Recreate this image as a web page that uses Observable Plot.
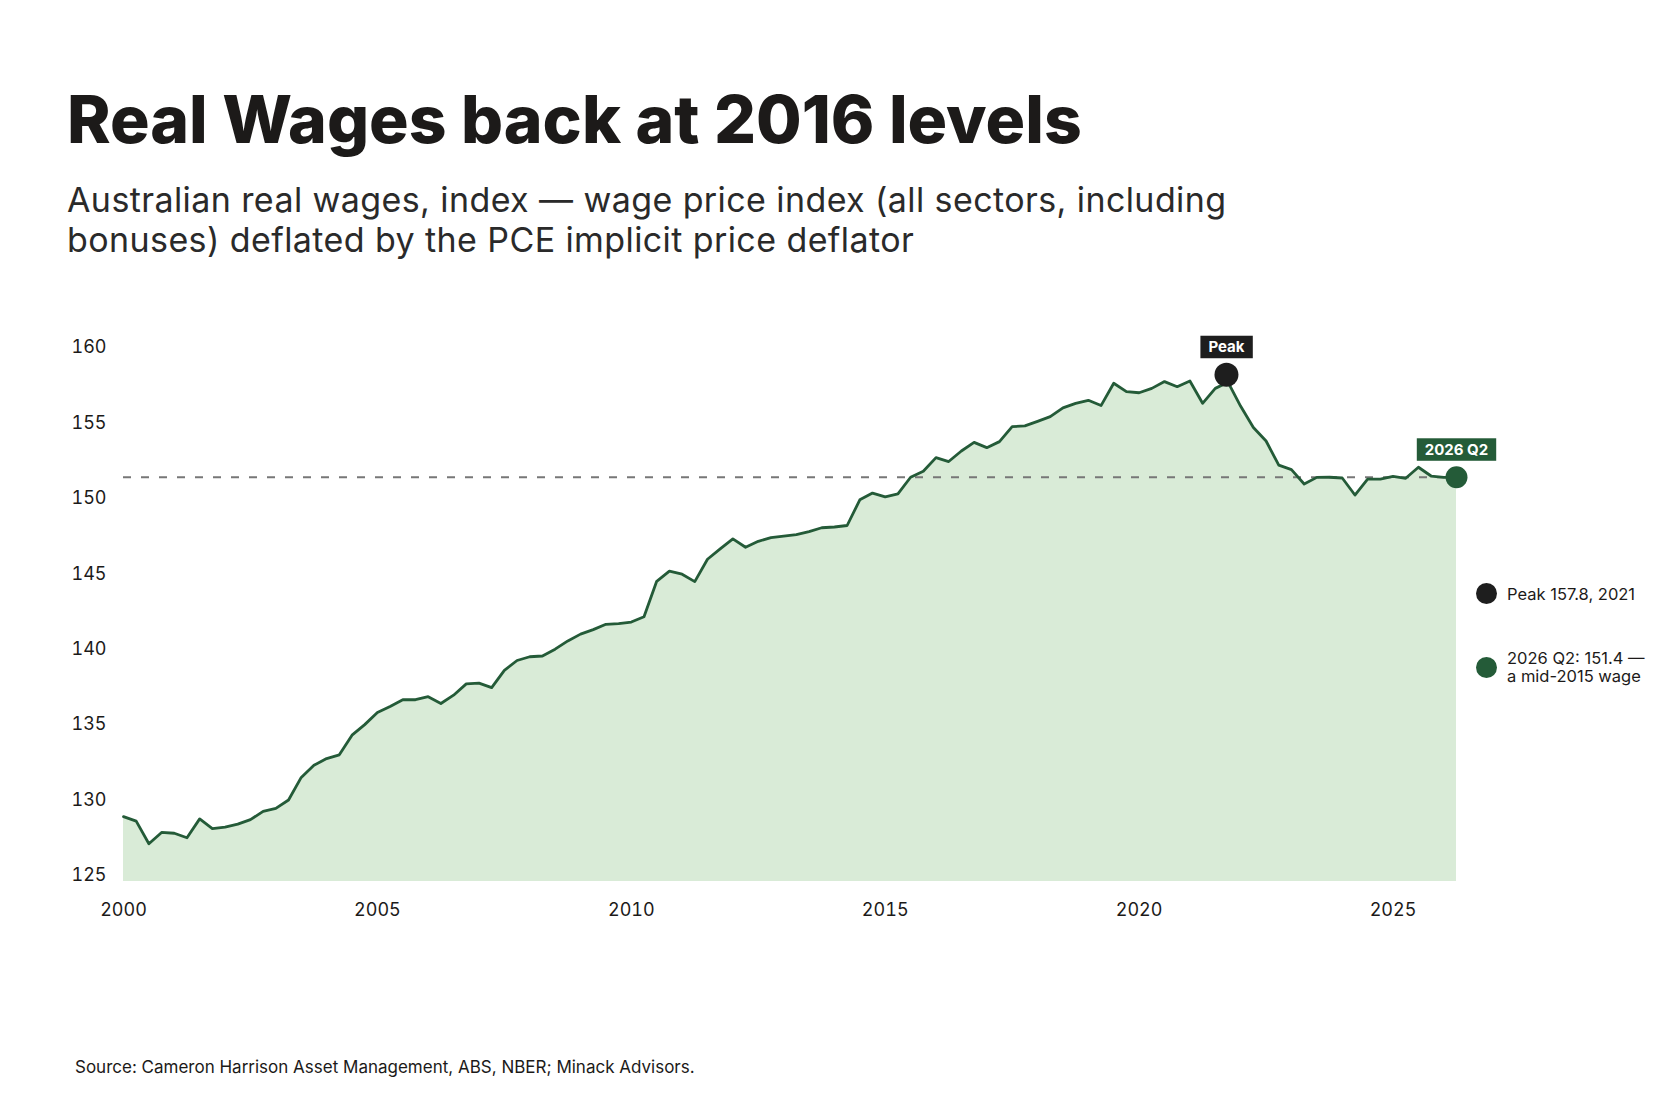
<!DOCTYPE html>
<html>
<head>
<meta charset="utf-8">
<script src="https://cdn.jsdelivr.net/npm/d3@7"></script>
<script src="https://cdn.jsdelivr.net/npm/@observablehq/plot@0.6"></script>
<style>
  html, body { margin: 0; padding: 0; background: #ffffff; }
  #page { position: relative; width: 1680px; height: 1120px; overflow: hidden;
          font-family: Inter, "Noto Sans", sans-serif; color: #1c1a19; }
  #title { position: absolute; left: 67px; top: 86px; margin: 0; font-size: 66px; line-height: 66px;
           font-weight: 800; letter-spacing: 0; white-space: nowrap; color: #1c1a19; }
  #subtitle { position: absolute; left: 67px; top: 180px; margin: 0; font-size: 34px; line-height: 40px;
              font-weight: 400; letter-spacing: 0.012em; color: #2a2a2a; white-space: nowrap; }
  #chart { position: absolute; left: 0; top: 300px; }
  .leg { position: absolute; left: 1507px; font-size: 16.5px; line-height: 18px; color: #1c1a19; white-space: nowrap; }
  .ldot { position: absolute; width: 21px; height: 21px; border-radius: 50%; }
  #footer { position: absolute; left: 75px; top: 1057px; font-size: 17px; line-height: 20px; color: #1c1a19; white-space: nowrap; }
</style>
</head>
<body>
<div id="page">
  <h1 id="title"></h1>
  <p id="subtitle"></p>
  <div id="chart"></div>
  <div id="legend"></div>
  <div id="footer"></div>
</div>
<script>
// ---------- text ----------
const titleText = "Real Wages back at 2016 levels";
const subtitleLines = [
  "Australian real wages, index — wage price index (all sectors, including",
  "bonuses) deflated by the PCE implicit price deflator"
];
const sourceText = "Source: Cameron Harrison Asset Management, ABS, NBER; Minack Advisors.";

// ---------- data (quarterly, 2000 Q1 .. 2026 Q2) ----------
const startYear = 2000;
const realWageIndex = [
  128.9, 128.6, 127.1, 127.85,   // 2000
  127.8, 127.5, 128.75, 128.1,   // 2001
  128.2, 128.4, 128.7, 129.25,   // 2002
  129.45, 130.0, 131.5, 132.3,   // 2003
  132.75, 133.0, 134.3, 135.0,   // 2004
  135.8, 136.2, 136.65, 136.65,  // 2005
  136.85, 136.4, 136.95, 137.7,  // 2006
  137.75, 137.45, 138.6, 139.25, // 2007
  139.5, 139.55, 140.0, 140.55,  // 2008
  141.0, 141.3, 141.65, 141.7,   // 2009
  141.8, 142.15, 144.5, 145.17,  // 2010
  144.97, 144.48, 145.96, 146.65,// 2011
  147.31, 146.76, 147.15, 147.4, // 2012
  147.5, 147.6, 147.8, 148.05,   // 2013
  148.1, 148.2, 149.9, 150.35,   // 2014
  150.1, 150.3, 151.4, 151.8,    // 2015
  152.7, 152.44, 153.14, 153.71, // 2016
  153.36, 153.76, 154.75, 154.8, // 2017
  155.1, 155.42, 156.0, 156.3,   // 2018
  156.5, 156.15, 157.63, 157.07, // 2019
  157.0, 157.29, 157.74, 157.4,  // 2020
  157.78, 156.3, 157.29, 157.7,  // 2021
  156.1, 154.7, 153.8, 152.2,    // 2022
  151.9, 150.95, 151.39, 151.4,  // 2023
  151.35, 150.22, 151.28, 151.28,// 2024
  151.45, 151.33, 152.06, 151.48,// 2025
  151.39, 151.4                  // 2026
];
const xTicks = [2000, 2005, 2010, 2015, 2020, 2025];
const yTicks = [125, 130, 135, 140, 145, 150, 155, 160];
const yDomain = [124.6, 160];
const referenceLevel = [151.4];
const peakPoint = [{ x: 2021.72, y: 157.8, label: "Peak" }];
const latestPoint = [{ x: 2026.25, y: 151.4, label: "2026 Q2" }];
const legendItems = [
  { color: "#1e1e1e", lines: ["Peak 157.8, 2021"] },
  { color: "#245b38", lines: ["2026 Q2: 151.4 —", "a mid-2015 wage"] }
];

// ---------- colours ----------
const lineColor = "#245b38";
const fillColor = "#d9ebd7";
const peakColor = "#1e1e1e";

const series = realWageIndex.map((v, i) => ({ t: startYear + i / 4, v }));

// ---------- header / footer ----------
document.getElementById("title").textContent = titleText;
const sub = document.getElementById("subtitle");
subtitleLines.forEach((l, i) => { if (i) sub.appendChild(document.createElement("br")); sub.appendChild(document.createTextNode(l)); });
document.getElementById("footer").textContent = sourceText;

// ---------- chart ----------
const chart = Plot.plot({
  width: 1680,
  height: 640,
  marginTop: 47,
  marginBottom: 59,
  marginLeft: 123,
  marginRight: 224,
  style: { fontFamily: "Inter, 'Noto Sans', sans-serif", fontSize: "18px", color: "#1c1a19", background: "transparent", overflow: "visible" },
  x: { domain: [startYear, latestPoint[0].x], ticks: xTicks, tickFormat: d => String(d), tickSize: 0, tickPadding: 22, label: null },
  y: { domain: yDomain, ticks: yTicks, tickSize: 0, tickPadding: 17, label: null },
  marks: [
    Plot.areaY(series, { x: "t", y1: yDomain[0], y2: "v", fill: fillColor, curve: "linear" }),
    Plot.ruleY(referenceLevel, { stroke: "#777777", strokeWidth: 1.8, strokeDasharray: "8,10" }),
    Plot.lineY(series, { x: "t", y: "v", stroke: lineColor, strokeWidth: 2.8, curve: "linear", strokeLinejoin: "round" }),
    Plot.dot(peakPoint, { x: "x", y: "y", r: 12, fill: peakColor, dy: -6 }),
    Plot.dot(latestPoint, { x: "x", y: "y", r: 11, fill: lineColor }),
    Plot.text(peakPoint, { x: "x", y: "y", text: "label", dy: -33, fill: "#ffffff", fontWeight: 700, fontSize: 15 }),
    Plot.text(latestPoint, { x: "x", y: "y", text: "label", dy: -27, fill: "#ffffff", fontWeight: 700, fontSize: 15 })
  ]
});
document.getElementById("chart").appendChild(chart);

// label boxes behind the annotation texts
function boxes(label, color) {
  chart.querySelectorAll("text").forEach(t => {
    if (t.textContent.trim() !== label) return;
    const b = t.getBBox();
    const r = document.createElementNS("http://www.w3.org/2000/svg", "rect");
    const h = 22.5, padX = 8;
    const cy = b.y + b.height / 2;
    r.setAttribute("x", b.x - padX);
    r.setAttribute("y", cy - h / 2);
    r.setAttribute("width", b.width + 2 * padX);
    r.setAttribute("height", h);
    r.setAttribute("fill", color);
    const tr = t.getAttribute("transform");
    if (tr) r.setAttribute("transform", tr);
    t.parentNode.insertBefore(r, t);
  });
}
boxes(peakPoint[0].label, peakColor);
boxes(latestPoint[0].label, lineColor);

// ---------- legend ----------
const legend = document.getElementById("legend");
const legendTops = [585, 649];
legendItems.forEach((item, i) => {
  const d = document.createElement("div");
  d.className = "leg";
  d.style.top = legendTops[i] + "px";
  d.innerHTML = item.lines.join("<br>");
  legend.appendChild(d);
  const dot = document.createElement("span");
  dot.className = "ldot";
  dot.style.background = item.color;
  dot.style.left = "1476px";
  const centre = legendTops[i] + (item.lines.length * 18) / 2 - 0.5 + (i ? 1 : 0);
  dot.style.top = (centre - 10.5) + "px";
  legend.appendChild(dot);
});
</script>
</body>
</html>
